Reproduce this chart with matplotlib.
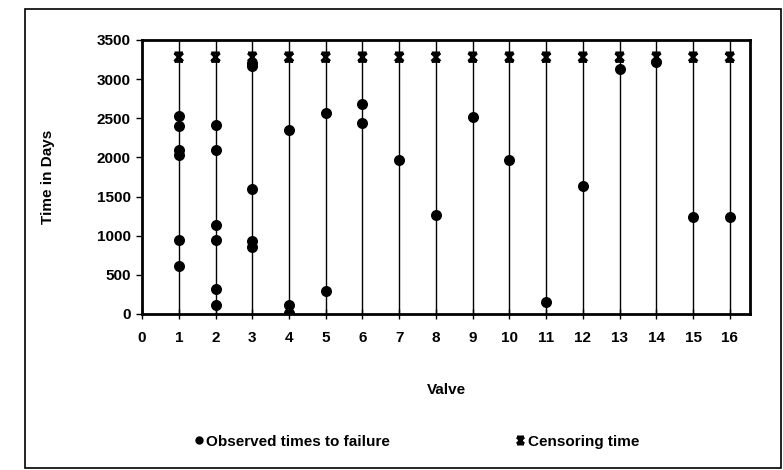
import matplotlib
matplotlib.use("Agg")
import matplotlib.pyplot as plt
from matplotlib.path import Path
from matplotlib.patches import Rectangle
from matplotlib.lines import Line2D

plt.rcParams['font.family'] = ['Liberation Sans', 'DejaVu Sans']

# observed failure times (days) per valve
valves = list(range(1, 17))
failures = {
    1: [2530, 2400, 2100, 2030, 940, 615],
    2: [2420, 2090, 1130, 940, 320, 120],
    3: [3200, 3165, 1600, 930, 860],
    4: [2350, 110, 15],
    5: [2570, 290],
    6: [2680, 2440],
    7: [1970],
    8: [1270],
    9: [2510],
    10: [1970],
    11: [150],
    12: [1640],
    13: [3130],
    14: [3220],
    15: [1240],
    16: [1240],
}
censor_time = 3280
y_max = 3500

# Excel-style "x" marker with caps
cens_marker = Path(
    [(-1, 1), (1, -1), (-1, -1), (1, 1), (-1, 1), (1, 1), (-1, -1), (1, -1)],
    [Path.MOVETO, Path.LINETO, Path.MOVETO, Path.LINETO,
     Path.MOVETO, Path.LINETO, Path.MOVETO, Path.LINETO])

fig = plt.figure(figsize=(7.83, 4.70), dpi=100)
ax = fig.add_axes([0.1814, 0.332, 0.7765, 0.583])

ax.vlines(valves, 0, y_max, color='black', lw=1.0, zorder=1)

xs, ys = [], []
for v in valves:
    for t in failures[v]:
        xs.append(v)
        ys.append(t)
ax.scatter(xs, ys, s=48, color='black', zorder=3)
ax.scatter(valves, [censor_time] * len(valves), marker=cens_marker,
           s=36, facecolor='none', edgecolor='black', linewidths=2.2, zorder=4)

ax.set_xlim(0, 16.55)
ax.set_ylim(0, y_max)
ax.set_xticks(range(0, 17))
ax.set_yticks(range(0, 3501, 500))
for s in ax.spines.values():
    s.set_linewidth(2.0)
ax.tick_params(axis='both', labelsize=11, width=1.0, length=4)
ax.tick_params(axis='x', direction='inout', length=7, pad=9)
ax.tick_params(axis='y', direction='out', pad=4)
for lab in ax.get_xticklabels() + ax.get_yticklabels():
    lab.set_fontweight('bold')

ax.set_xlabel('Valve', fontsize=11, fontweight='bold', labelpad=27)
ax.set_ylabel('Time in Days', fontsize=11, fontweight='bold', labelpad=30)

handles = [
    Line2D([], [], ls='none', marker='o', ms=5, color='black',
           label='Observed times to failure'),
    Line2D([], [], ls='none', marker=cens_marker, ms=5, mew=2.2,
           mfc='none', mec='black', label='Censoring time'),
]
leg = fig.legend(handles=handles, loc='center', bbox_to_anchor=(0.533, 0.06),
                 ncol=2, frameon=False, handlelength=0.4, handletextpad=0.3,
                 columnspacing=8.3, prop={'size': 11, 'weight': 'bold'})

# outer border of the chart area
fig.patches.append(Rectangle((25 / 783, 0.005), 756 / 783, 1 - 9 / 470 - 0.005,
                             transform=fig.transFigure, fill=False,
                             edgecolor='black', lw=1.2))

fig.savefig('out.png', dpi=100)
